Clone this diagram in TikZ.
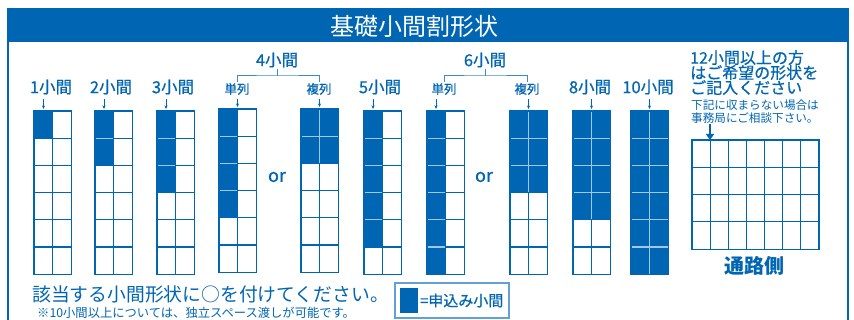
\documentclass[tikz,border=0pt]{standalone}
\usepackage{fontspec}
\usepackage{tikz}
\usetikzlibrary{arrows.meta, positioning, calc}
\newfontfamily\jp{Noto Sans CJK JP}
\newfontfamily\jpmid[FakeBold=0.6]{Noto Sans CJK JP}
\definecolor{koma}{RGB}{0,101,178}
\definecolor{komapale}{RGB}{160,200,238}
\definecolor{komaframe}{RGB}{100,160,215}
\tikzset{
        sizelabel/.style={text=koma, inner sep=1pt, font=\jpmid\fontsize{16.5}{17}\selectfont},
        rowlabel/.style={text=koma, inner sep=1pt, font=\jpmid\fontsize{12.5}{12.5}\selectfont},
        tinyarrow/.style={koma, line width=0.6pt, -{Stealth[length=3.5pt,width=3pt]}, shorten <=3pt},
        bigarrow/.style={koma, line width=2.6pt, -{Triangle[length=6pt,width=8pt]}},
        bracketline/.style={koma!75, line width=1pt},
        cellwhite/.style={draw=koma, fill=white, line width=1.2pt},
        cellblue/.style={draw=komapale, fill=koma, line width=1.2pt},
        ortext/.style={text=koma, inner sep=0pt, font=\jpmid\fontsize{18}{18}\selectfont},
    }

\begin{document}
\begin{tikzpicture}[x=1pt, y=-1pt]
        \useasboundingbox (0,0) rectangle (854,320);

        % frame and title band
        \fill[koma] (8,9) rectangle (848,42);
        \draw[koma, line width=1.5pt] (8,330) -- (8,9) -- (848,9) -- (848,330);
        \node[text=white, font=\jp\fontsize{24}{24}\selectfont] (title) at (414,26) {基礎小間割形状};

        % booth grids: x / y / filled columns / filled rows
        \foreach \gx/\gy/\fc/\fr in {34/111/1/1, 95/111/1/2, 157/111/1/3, 219/109/1/4, 301/109/2/2,
                                     364/111/1/5, 427/111/1/6, 510/111/2/3, 573/111/2/4, 631/111/2/6}{
            \begin{scope}[shift={(\gx,\gy)}]
                \foreach \c in {0,1}
                    \foreach \r in {0,...,5}
                        \draw[cellwhite] ({\c*18.6},{\r*27.2}) rectangle ++(18.6,27.2);
                \foreach \c in {1,...,\fc}
                    \foreach \r in {1,...,\fr}
                        \draw[cellblue] ({(\c-1)*18.6},{(\r-1)*27.2}) rectangle ++(18.6,27.2);
                \draw[koma, line width=1.2pt] (0,0) rectangle ({\fc*18.6},{\fr*27.2});
            \end{scope}
        }

        % arrow tips at grid tops
        \coordinate (a1) at (43.5,109);
        \coordinate (a2) at (104,109);
        \coordinate (a3) at (166,109);
        \coordinate (a4s) at (237.5,107);
        \coordinate (a4d) at (319.5,107);
        \coordinate (a5) at (373,109);
        \coordinate (a6s) at (436,109);
        \coordinate (a6d) at (528.5,109);
        \coordinate (a8) at (591.5,109);
        \coordinate (a10) at (649.5,109);

        % size labels
        \node[sizelabel] (l1) at (51,87) {1小間};
        \node[sizelabel] (l2) at (111,87) {2小間};
        \node[sizelabel] (l3) at (173,87) {3小間};
        \node[sizelabel] (l5) at (380,87) {5小間};
        \node[sizelabel] (l8) at (590,87) {8小間};
        \node[sizelabel] (l10) at (648,87) {10小間};
        \draw[tinyarrow] (l1.south -| a1) -- (a1);
        \draw[tinyarrow] (l2.south -| a2) -- (a2);
        \draw[tinyarrow] (l3.south -| a3) -- (a3);
        \draw[tinyarrow] (l5.south -| a5) -- (a5);
        \draw[tinyarrow] (l8.south -| a8) -- (a8);
        \draw[tinyarrow] (l10.south -| a10) -- (a10);

        % 4 booths
        \node[sizelabel] (l4) at (277,60) {4小間};
        \node[rowlabel] (l4s) at (237,89) {単列};
        \node[rowlabel] (l4d) at (319,89) {複列};
        \coordinate (b4) at (277,76);
        \draw[bracketline] (l4.south) -- (b4);
        \draw[bracketline] (l4s.north) |- (b4) -| (l4d.north);
        \draw[tinyarrow] (l4s.south -| a4s) -- (a4s);
        \draw[tinyarrow] (l4d.south -| a4d) -- (a4d);
        \node[ortext] (or4) at (277,177) {or};

        % 6 booths
        \node[sizelabel] (l6) at (485,60) {6小間};
        \node[rowlabel] (l6s) at (444,89) {単列};
        \node[rowlabel] (l6d) at (527,89) {複列};
        \coordinate (b6) at (485,76);
        \draw[bracketline] (l6.south) -- (b6);
        \draw[bracketline] (l6s.north) |- (b6) -| (l6d.north);
        \draw[tinyarrow] (l6s.south -| a6s) -- (a6s);
        \draw[tinyarrow] (l6d.south -| a6d) -- (a6d);
        \node[ortext] (or6) at (484,177) {or};

        % 12 booths and more
        \node[anchor=north west, align=left, inner sep=0pt, text=koma, font=\jpmid\fontsize{16}{15}\selectfont]
            (note) at (690,50) {12小間以上の方\\はご希望の形状を\\ご記入ください};
        \node[anchor=north west, align=left, inner sep=0pt, text=koma, font=\jp\fontsize{11.6}{13}\selectfont]
            (note2) at (691,100) {下記に収まらない場合は\\事務局にご相談下さい。};
        \begin{scope}[shift={(692,140)}]
            \foreach \c in {0,...,6}
                \foreach \r in {0,...,3}
                    \draw[cellwhite] ({\c*18.14},{\r*27.3}) rectangle ++(18.14,27.3);
        \end{scope}
        \coordinate (a12) at (710,140);
        \draw[bigarrow] (note2.south -| a12) -- (a12);
        \node[text=koma, font=\jp\bfseries\fontsize{20}{20}\selectfont] (aisle) at (754,266) {通路側};

        % footer
        \node[anchor=west, inner sep=0pt, text=koma, font=\jp\fontsize{18.8}{19}\selectfont]
            (ask) at (32,294) {該当する小間形状に○を付けてください。};
        \node[anchor=west, inner sep=0pt, text=koma, font=\jp\fontsize{12.3}{12.3}\selectfont]
            (memo) at (37,313) {※10小間以上については、独立スペース渡しが可能です。};

        % legend
        \node[draw=komaframe, line width=1.2pt, minimum width=114pt, minimum height=35pt, inner sep=0pt] (legend) at (452,300.5) {};
        \node[fill=koma, minimum width=18pt, minimum height=25pt, inner sep=0pt, anchor=west] (legsq) at ([xshift=5.5pt]legend.west) {};
        \node[right=1.5pt of legsq, inner sep=0pt, text=koma, font=\jpmid\fontsize{15}{15}\selectfont] (legtxt) {=申込み小間};
    \end{tikzpicture}
\end{document}
